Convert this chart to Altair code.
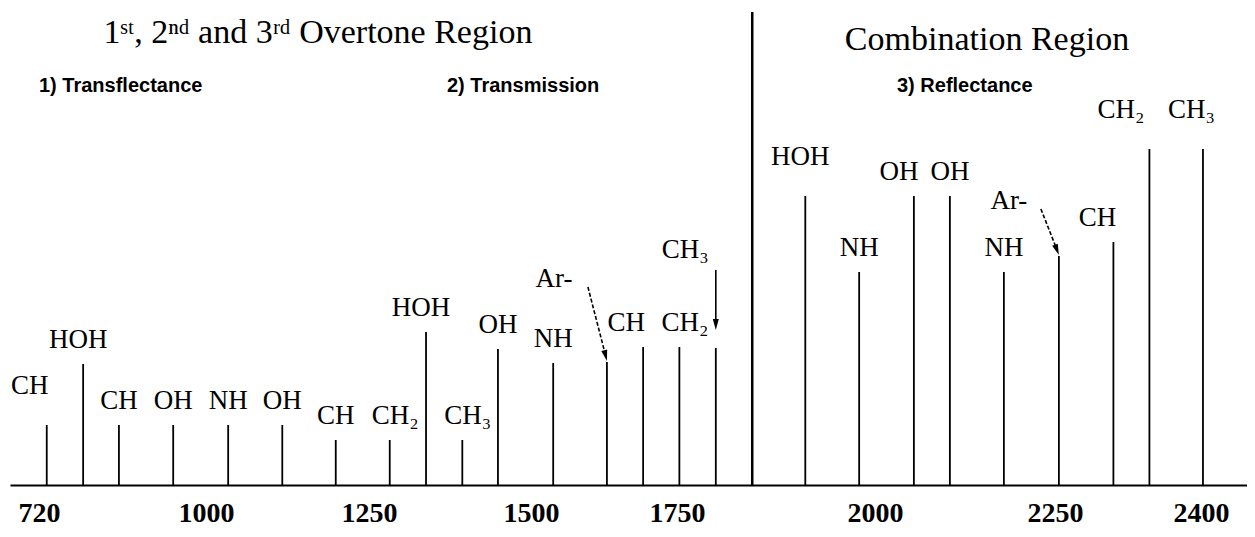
import altair as alt
import pandas as pd
import math

# ---------------- data ----------------
band_names = ["CH", "HOH", "CH", "OH", "NH", "OH", "CH", "CH₂", "HOH", "CH₃", "OH", "NH",
              "Ar-", "CH", "CH₂", "CH₃",
              "HOH", "NH", "OH", "OH", "NH", "Ar-", "CH", "CH₂", "CH₃"]
band_nm = [733, 794, 854, 945, 1034, 1117, 1199, 1282, 1338, 1394, 1449, 1538,
           1630, 1692, 1753, 1799,
           1912, 1980, 2054, 2104, 2179, 2254, 2310, 2347, 2402]
band_height = [60, 121, 60, 60, 60, 60, 45, 45, 153, 45, 136, 122,
               123, 138, 138, 137,
               289, 213, 289, 289, 213, 229, 243, 336, 336]
divider_nm = [1845]
divider_height = [473]
tick_values = [720, 1000, 1250, 1500, 1750, 2000, 2250, 2400]
region_titles = ["1ˢᵗ, 2ⁿᵈ and 3ʳᵈ Overtone Region", "Combination Region"]
mode_labels = ["1) Transflectance", "2) Transmission", "3) Reflectance"]

# ---------------- layout / style ----------------
W, H = 1239, 521
x_domain = [671] + tick_values + [2447]
x_range = [2, 31, 198, 361, 523, 669, 867, 1047, 1193, 1239]
y_domain = [-44, 477]
INK = "#000000"
SERIF = "Liberation Serif"
SANS = "Liberation Sans"

df = pd.DataFrame({"name": band_names, "nm": band_nm, "h": band_height})
df["i"] = range(len(df))

xscale = alt.Scale(domain=x_domain, range=x_range, nice=False, zero=False)
yscale = alt.Scale(domain=y_domain, nice=False, zero=False)
xaxis = alt.Axis(values=tick_values, format="d", ticks=False, tickSize=0, grid=False,
                 domainColor=INK, domainWidth=2, labelFont=SERIF, labelFontSize=28,
                 labelFontWeight="bold", labelColor=INK, labelPadding=36,
                 labelBaseline="alphabetic", offset=-44, title=None,
                 labelFlush=False, labelOverlap=False)
X = alt.X("nm:Q", scale=xscale, axis=xaxis)
Y = lambda f: alt.Y(f, scale=yscale, axis=None)

layers = []

# band lines
layers.append(
    alt.Chart(df).mark_rule(color=INK, strokeWidth=1.8).encode(
        x=X, y=Y("h:Q"), y2=alt.datum(0)
    )
)

# region divider
ddf = pd.DataFrame({"nm": divider_nm, "h": divider_height})
layers.append(
    alt.Chart(ddf).mark_rule(color=INK, strokeWidth=2.5).encode(
        x=X, y=Y("h:Q"), y2=alt.datum(0)
    )
)

# label style rules (placement of each label relative to its line)
sub_names = {"CH₂", "CH₃"}
shift_left = {0: -17, 13: -17, 18: -15, 22: -16, 23: -34, 24: -17}
raised = {0, 16, 23, 24}
special = {12: ("center", -53, 75), 15: ("left", -54, 90), 21: ("center", -50, 47)}


def label_style(i, name):
    if i in special:
        return special[i]
    align, dx = "center", 0
    if name == "HOH":
        dx = -5
    if name in sub_names:
        align, dx = "left", -18
    dx += shift_left.get(i, 0)
    gap = 31 if i in raised else 16
    return (align, dx, gap)


styles = [label_style(i, n) for i, n in zip(df["i"], df["name"])]
df["align"] = [s[0] for s in styles]
df["ldx"] = [s[1] for s in styles]
df["gap"] = [s[2] for s in styles]

for (align, ldx, gap), sub in df.groupby(["align", "ldx", "gap"]):
    layers.append(
        alt.Chart(sub[["name", "nm", "h"]]).mark_text(
            align=align, baseline="alphabetic", dx=int(ldx), dy=-int(gap),
            font=SERIF, fontSize=27, color=INK
        ).encode(x=X, y=Y("h:Q"), text="name:N")
    )

# arrows (pointing from labels to their lines)
arrows = [
    dict(i=12, sdx=-19, sgap=75, tip=1, angle=346, dash=[4, 2]),
    dict(i=15, sdx=0, sgap=78, tip=18, angle=0, dash=None),
    dict(i=21, sdx=-18, sgap=47, tip=1, angle=339, dash=[4, 2]),
]
HEAD = "M-0.55,-1L0.55,-1L0,1Z"
for a in arrows:
    sub = df[df["i"] == a["i"]][["nm", "h"]].copy()
    th = math.radians(360 - a["angle"]) if a["angle"] else 0.0
    sub["ys"] = sub["h"] + a["sgap"]
    sub["ye"] = sub["h"] + a["tip"] + 4
    sub["yh"] = sub["h"] + a["tip"] + 5.5 * math.cos(th)
    kw = dict(color=INK, strokeWidth=1.6, xOffset=a["sdx"], x2Offset=-4 * math.sin(th))
    if a["dash"]:
        kw["strokeDash"] = a["dash"]
    layers.append(
        alt.Chart(sub).mark_rule(**kw).encode(
            x=X, x2="nm:Q", y=Y("ys:Q"), y2="ye:Q"
        )
    )
    layers.append(
        alt.Chart(sub).mark_point(
            shape=HEAD, filled=True, size=121, angle=a["angle"], color=INK,
            opacity=1, strokeWidth=0, xOffset=-5.5 * math.sin(th)
        ).encode(x=X, y=Y("yh:Q"))
    )


# region titles and measurement-mode labels
def text_at(t, px, py, **kw):
    return alt.Chart(pd.DataFrame({"t": [t]})).mark_text(
        baseline="alphabetic", color=INK, **kw
    ).encode(x=alt.value(px), y=alt.value(py), text="t:N")


layers.append(text_at(region_titles[0], 310, 35, align="center", font=SERIF, fontSize=34))
layers.append(text_at(region_titles[1], 979, 42, align="center", font=SERIF, fontSize=34))
for lab, px in zip(mode_labels, [31, 439, 889]):
    layers.append(text_at(lab, px, 84, align="left", font=SANS, fontSize=20, fontWeight="bold"))

chart = alt.layer(*layers).properties(
    width=W, height=H, padding=0, autosize=alt.AutoSizeParams(type="none"),
    background="white"
).configure_view(stroke=None)

chart.save("out.html", embed_options={"renderer": "svg", "actions": False})
